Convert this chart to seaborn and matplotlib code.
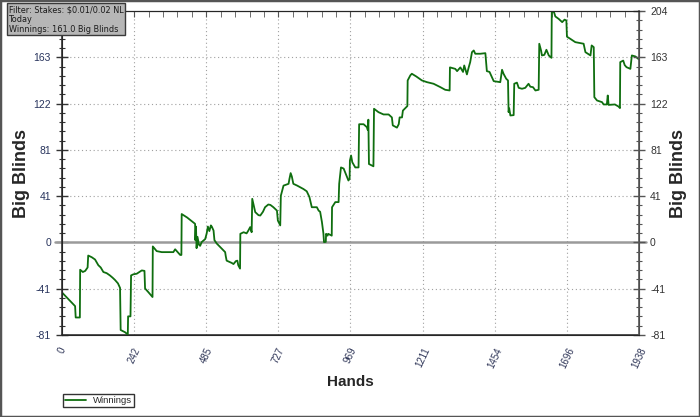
import matplotlib
matplotlib.use("Agg")
import matplotlib.pyplot as plt
from matplotlib.patches import Rectangle
from matplotlib.ticker import MultipleLocator, FixedLocator
import numpy as np
import pandas as pd
import seaborn as sns

# running total of winnings (big blinds) against hand number
hands = [0, 44, 46, 60, 61, 70, 78, 86, 88, 100, 111, 122, 130, 139, 150, 161, 170, 178, 188, 195,
         197, 212, 221, 222, 230, 232, 240, 251, 268, 277, 279, 290, 304, 305, 318, 335, 374, 380, 397, 401,
         402, 420, 447, 448, 450, 452, 455, 460, 464, 469, 481, 486, 490, 495, 500, 503, 509, 512, 520, 531,
         548, 550, 553, 570, 576, 584, 589, 592, 598, 599, 610, 620, 626, 632, 637, 639, 649, 660, 666, 675,
         682, 693, 700, 710, 722, 725, 733, 735, 744, 761, 764, 768, 772, 777, 790, 800, 811, 822, 831, 839,
         856, 862, 867, 873, 878, 880, 886, 887, 892, 894, 906, 907, 918, 929, 931, 934, 937, 946, 955, 962,
         966, 967, 971, 975, 985, 996, 998, 1013, 1024, 1027, 1029, 1031, 1046, 1048, 1063, 1080, 1097, 1108,
         1111, 1125, 1131, 1134, 1142, 1145, 1156, 1160, 1161, 1170, 1175, 1190, 1209, 1226, 1248, 1271, 1287,
         1302, 1303, 1321, 1327, 1338, 1347, 1351, 1360, 1366, 1371, 1377, 1383, 1388, 1405, 1422, 1427, 1436,
         1444, 1450, 1472, 1478, 1483, 1492, 1498, 1500, 1502, 1506, 1517, 1519, 1528, 1534, 1545, 1556, 1567,
         1573, 1582, 1590, 1601, 1603, 1609, 1612, 1620, 1627, 1635, 1644, 1645, 1652, 1657, 1668, 1675, 1680,
         1688, 1694, 1696, 1708, 1724, 1741, 1752, 1758, 1766, 1775, 1779, 1786, 1788, 1797, 1814, 1819, 1830,
         1833, 1836, 1857, 1869, 1874, 1875, 1885, 1890, 1896, 1909, 1914, 1926, 1938]
winnings = [-44, -56, -66, -66, -24, -26, -25, -22, -11.5, -13, -15, -20, -22, -26, -27, -29, -31, -33, -36, -40,
            -77, -79, -81, -65, -65, -29, -28, -27.5, -24.6, -25, -40.5, -43.7, -48, -3.5, -7.6, -8.5, -8.5, -6, -11, -11,
            25, 22, 16.4, 2, 14, -5, 5, -2, -3, 0.3, 3, 8, 14, 10, 15, 14, 10.5, 2, -1, -4,
            -8.5, -12, -16, -18, -19, -16.4, -16, -20, -23, 7.6, 9, 8, 10.5, 13.5, 9, 38.4, 26.7, 24, 23.7, 27,
            31, 33.4, 33, 31, 28, 19.3, 15, 41, 50, 51.6, 56, 61, 58, 51.6, 50, 48.6, 47, 45, 40, 31,
            31, 28, 27, 18, 8, 0.3, 0.5, 7.6, 6, 7.6, 6, 31, 35.5, 35.5, 51.6, 59, 66, 65, 59, 54.5,
            56, 72, 76.5, 70.6, 66, 66, 104, 104, 101.4, 99, 108, 69, 67, 117.6, 114.6, 112.6, 112.6, 110,
            103, 101, 104, 110, 110, 116, 119, 120, 142.5, 147, 148.4, 146, 142.5, 141, 139.6, 136.6, 134.3,
            133.7, 154, 152.7, 150.7, 154, 150, 155.7, 147.8, 154, 158.6, 167.4, 168.9, 166, 166, 166.5, 150.7, 150,
            145.4, 141.9, 141, 151.9, 148.4, 144, 142.5, 114.6, 118, 111.7, 112, 139.6, 140.6, 136, 135.2, 136, 139.6,
            137, 136.6, 133.7, 134.3, 174.8, 168.9, 164.5, 165, 169.5, 164.5, 162.4, 202.5, 203, 198.8, 196.7, 195, 193.8,
            196, 195.3, 181, 179, 176.2, 175.3, 174.8, 167.4, 166, 164.5, 173.3, 171.8, 127.8, 124.9, 123.4, 121.4, 121.4,
            129.3, 121, 121.4, 119.6, 118.2, 158.6, 160, 156, 154.2, 152.7, 164.5, 163.6, 161]

y_ticks = [-81.4, -40.7, 0, 40.7, 81.4, 122.1, 162.9, 203.6]
y_labels = ["-81", "-41", "0", "41", "81", "122", "163", "204"]
x_ticks = [0, 242.25, 484.5, 726.75, 969, 1211.25, 1453.5, 1695.75, 1938]
x_labels = ["0", "242", "485", "727", "969", "1211", "1454", "1696", "1938"]
info_lines = ["Filter: Stakes: $0.01/0.02 NL", "Today", "Winnings: 161.0 Big Blinds"]

df = pd.DataFrame({"Hands": hands, "Winnings": winnings})

sns.set_style("white")
plt.rcParams["font.family"] = ["Liberation Sans", "DejaVu Sans"]

fig = plt.figure(figsize=(7, 4.17), dpi=100)
ax = fig.add_axes([62 / 700, 1 - 335 / 417, 577 / 700, 324 / 417])

ax.axhline(0, color="#9a9a9a", linewidth=1.8, zorder=1, xmin=-0.012, xmax=1.012, clip_on=False)
sns.lineplot(data=df, x="Hands", y="Winnings", estimator=None, sort=False,
             color="#0f6e0f", linewidth=1.3, ax=ax, label="Winnings", zorder=3)

ax.set_xlim(0, 1938)
ax.set_ylim(-81.4, 203.6)

# grid lines at the major ticks (skip zero, it has its own line)
for xv in x_ticks[1:-1]:
    ax.axvline(xv, color="#a0a0a0", linewidth=0.8, linestyle=(0, (1, 2.5)), zorder=0)
for yv in y_ticks[1:-1]:
    if yv != 0:
        ax.axhline(yv, color="#a0a0a0", linewidth=0.8, linestyle=(0, (1, 2.5)), zorder=0)

ax.xaxis.set_major_locator(FixedLocator(x_ticks))
ax.xaxis.set_minor_locator(MultipleLocator(1938 / 40))
ax.set_xticklabels(x_labels, rotation=65, ha="center", va="top", fontsize=7, color="#2f3658")
ax.yaxis.set_major_locator(FixedLocator(y_ticks))
ax.yaxis.set_minor_locator(MultipleLocator(40.7 / 5))
# the top left label sits under the filter box in the original
ax.set_yticklabels(y_labels[:-1] + [""], fontsize=7.5, color="#27335c")

ax.tick_params(axis="x", which="major", direction="inout", length=8, width=1, color="#333333", pad=4)
ax.tick_params(axis="x", which="minor", direction="inout", length=5, width=0.8, color="#333333")
ax.tick_params(axis="y", which="major", direction="inout", length=8, width=1, color="#333333", pad=4)
ax.tick_params(axis="y", which="minor", direction="inout", length=5, width=0.8, color="#333333")

ax2 = ax.twinx()
ax2.set_ylim(ax.get_ylim())
ax2.yaxis.set_major_locator(FixedLocator(y_ticks))
ax2.yaxis.set_minor_locator(MultipleLocator(40.7 / 5))
ax2.set_yticklabels(y_labels, fontsize=7.5, color="#333333")
ax2.tick_params(axis="y", which="major", direction="inout", length=8, width=1, color="#555555", pad=4)
ax2.tick_params(axis="y", which="minor", direction="inout", length=5, width=0.8, color="#555555")

top = ax.secondary_xaxis("top")
top.xaxis.set_major_locator(FixedLocator(x_ticks))
top.xaxis.set_minor_locator(MultipleLocator(1938 / 40))
top.set_xticklabels([])
top.tick_params(which="both", direction="in", length=4, color="#555555")
top.spines["top"].set_color("#888888")

for sp in ["left", "bottom"]:
    ax.spines[sp].set_color("#333333")
    ax.spines[sp].set_linewidth(1.2)
ax.spines["top"].set_color("#888888")
ax2.spines["right"].set_color("#555555")
ax2.spines["right"].set_linewidth(1.2)

ax.set_xlabel("Hands", fontsize=11, fontweight="bold")
ax.xaxis.set_label_coords(0.5, -0.123)
ax.set_ylabel("Big Blinds", fontsize=13, fontweight="bold")
ax.yaxis.set_label_coords(-0.055, 0.5)
ax2.set_ylabel("Big Blinds", fontsize=13, fontweight="bold", rotation=90)
ax2.yaxis.set_label_coords(1.054, 0.5)

ax.get_legend().remove()
fig.legend(*ax.get_legend_handles_labels(), loc="lower left", bbox_to_anchor=(0.083, 0.012),
           fontsize=6.8, frameon=True, fancybox=False, edgecolor="#333333", framealpha=1,
           handlelength=2.2, borderpad=0.25, handletextpad=0.7)

fig.text(9 / 700, 1 - 5 / 417, "\n".join(info_lines), ha="left", va="top",
         fontsize=5.9, family=["DejaVu Sans"], color="#1a1a1a", linespacing=1.12,
         bbox=dict(boxstyle="square,pad=0.2", facecolor="#b6b6b6", edgecolor="#3a3a3a", linewidth=1))

fig.patches.append(Rectangle((0, 0), 1, 1, transform=fig.transFigure, fill=False,
                             edgecolor="#555555", linewidth=2.5))

fig.savefig("out.png", dpi=100)
